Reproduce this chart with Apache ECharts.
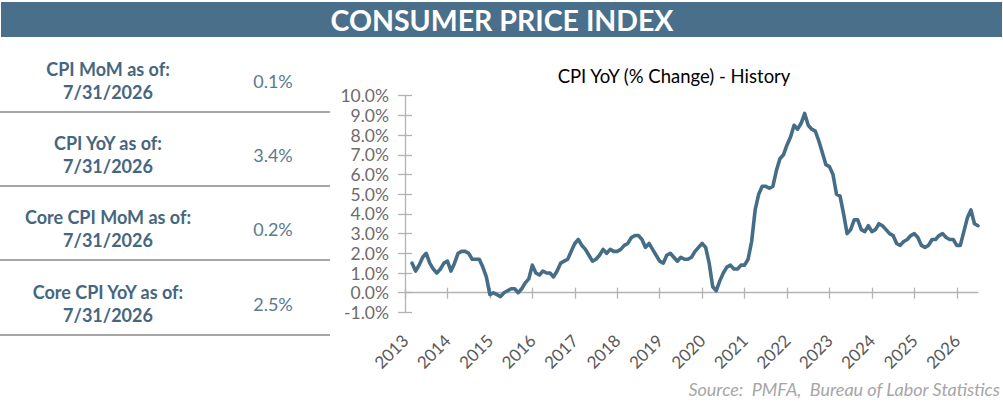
<!DOCTYPE html>
<html>
<head>
<meta charset="utf-8">
<script src="https://cdn.jsdelivr.net/npm/echarts@6/dist/echarts.min.js"></script>
<style>
html,body{margin:0;padding:0;background:#fff;}
#c{width:1003px;height:405px;}
</style>
</head>
<body>
<div id="c"></div>
<script>
// ---- data ----
const yearLabels = ['2013','2014','2015','2016','2017','2018','2019','2020','2021','2022','2023','2024','2025','2026'];
const axisStartMonth = 1;   // Jan 2013
const axisEndMonth = 7;     // Jul 2026
const dataStartIndex = 2;   // series begins Mar 2013
const cpiYoY = [
  // 2013 Mar-Dec
  1.5, 1.1, 1.4, 1.8, 2.0, 1.5, 1.2, 1.0, 1.2, 1.5,
  // 2014
  1.6, 1.1, 1.5, 2.0, 2.1, 2.1, 2.0, 1.7, 1.7, 1.7, 1.3, 0.8,
  // 2015
  -0.1, 0.0, -0.1, -0.2, 0.0, 0.1, 0.2, 0.2, 0.0, 0.2, 0.5, 0.7,
  // 2016
  1.4, 1.0, 0.9, 1.1, 1.0, 1.0, 0.8, 1.1, 1.5, 1.6, 1.7, 2.1,
  // 2017
  2.5, 2.7, 2.4, 2.2, 1.9, 1.6, 1.7, 1.9, 2.2, 2.0, 2.2, 2.1,
  // 2018
  2.1, 2.2, 2.4, 2.5, 2.8, 2.9, 2.9, 2.7, 2.3, 2.5, 2.2, 1.9,
  // 2019
  1.6, 1.5, 1.9, 2.0, 1.8, 1.6, 1.8, 1.7, 1.7, 1.8, 2.1, 2.3,
  // 2020
  2.5, 2.3, 1.5, 0.3, 0.1, 0.6, 1.0, 1.3, 1.4, 1.2, 1.2, 1.4,
  // 2021
  1.4, 1.7, 2.6, 4.2, 5.0, 5.4, 5.4, 5.3, 5.4, 6.2, 6.8, 7.0,
  // 2022
  7.5, 7.9, 8.5, 8.3, 8.6, 9.1, 8.5, 8.3, 8.2, 7.7, 7.1, 6.5,
  // 2023
  6.4, 6.0, 5.0, 4.9, 4.0, 3.0, 3.2, 3.7, 3.7, 3.2, 3.1, 3.4,
  // 2024
  3.1, 3.2, 3.5, 3.4, 3.2, 3.0, 2.9, 2.5, 2.4, 2.6, 2.7, 2.9,
  // 2025
  3.0, 2.8, 2.4, 2.3, 2.4, 2.7, 2.7, 2.9, 3.0, 2.8, 2.7, 2.7,
  // 2026 Jan-Jul
  2.4, 2.4, 3.1, 3.8, 4.2, 3.5, 3.4
];
const yTicks = {min: -1, max: 10, interval: 1};
const panelLabels = ['CPI MoM as of:', 'CPI YoY as of:', 'Core CPI MoM as of:', 'Core CPI YoY as of:'];
const panelDates = ['7/31/2026', '7/31/2026', '7/31/2026', '7/31/2026'];
const panelValues = ['0.1%', '3.4%', '0.2%', '2.5%'];
const headerText = 'CONSUMER PRICE INDEX';
const chartTitle = 'CPI YoY (% Change) - History';
const sourceText = 'Source:  PMFA,  Bureau of Labor Statistics';

// ---- build month categories ----
const months = [];
{
  const y0 = parseInt(yearLabels[0], 10);
  const y1 = parseInt(yearLabels[yearLabels.length - 1], 10);
  for (let y = y0; y <= y1; y++) {
    for (let m = 1; m <= 12; m++) {
      if (y === y0 && m < axisStartMonth) continue;
      if (y === y1 && m > axisEndMonth) continue;
      months.push(y + '-' + (m < 10 ? '0' + m : m));
    }
  }
}
const seriesData = months.map((_, i) => {
  const k = i - dataStartIndex;
  return (k >= 0 && k < cpiYoY.length) ? cpiYoY[k] : null;
});
const isJan = (idx, val) => String(val).slice(5) === '01';

// ---- panel graphics ----
const textColor = '#46667f';
const graphics = [];
graphics.push({type:'rect', shape:{x:1, y:2, width:1001, height:35}, style:{fill:'#4a6f8a'}, silent:true});
graphics.push({type:'text', x:502, y:20, style:{text:headerText, fill:'#fff', font:'bold 28.5px Lato', align:'center', verticalAlign:'middle'}});
const rowTop = [37, 112, 186, 260];
const rowLine = [112, 186, 260, 335];
for (let r = 0; r < 4; r++) {
  const mid = (rowTop[r] + rowLine[r]) / 2 + 5;
  graphics.push({type:'text', x:108, y:mid - 11, style:{text:panelLabels[r], fill:textColor, font:'bold 18px Lato', align:'center', verticalAlign:'middle'}});
  graphics.push({type:'text', x:108, y:mid + 12, style:{text:panelDates[r], fill:textColor, font:'bold 18px Lato', align:'center', verticalAlign:'middle'}});
  graphics.push({type:'text', x:273, y:mid + 1, style:{text:panelValues[r], fill:'#5a7a92', font:'18px Lato', align:'center', verticalAlign:'middle'}});
  graphics.push({type:'line', shape:{x1:0, y1:rowLine[r], x2:330, y2:rowLine[r]}, style:{stroke:'#a6a6a6', lineWidth:2}});
}
graphics.push({type:'text', x:674, y:76, style:{text:chartTitle, fill:'#000', font:'18.5px Lato', align:'center', verticalAlign:'middle'}});
graphics.push({type:'text', x:1000, y:389, style:{text:sourceText, fill:'#a6a6a6', font:'italic 18px Lato', align:'right', verticalAlign:'middle'}});

const axisGray = '#b3b3b3';
const option = {
  animation: false,
  grid: {left: 405, right: 25, top: 95.7, bottom: 92.6, containLabel: false},
  xAxis: [
    {type:'category', data:months, boundaryGap:false, position:'bottom',
      axisLine:{show:true, onZero:true, lineStyle:{color:axisGray, width:1.3}},
      axisTick:{show:true, inside:false, length:6, interval:isJan, lineStyle:{color:axisGray, width:1.3}},
      axisLabel:{show:false}, splitLine:{show:false}},
    {type:'category', data:months, boundaryGap:false, position:'bottom',
      axisLine:{show:false, onZero:true},
      axisTick:{show:true, inside:true, length:5, interval:isJan, lineStyle:{color:axisGray, width:1.3}},
      axisLabel:{show:false}, splitLine:{show:false}},
    {type:'category', data:months, boundaryGap:false, position:'bottom',
      axisLine:{show:false, onZero:false},
      axisTick:{show:false},
      axisLabel:{show:true, interval:isJan, rotate:45, margin:25, color:'#595959', fontFamily:'Lato', fontSize:17,
        formatter:(v) => v.slice(0,4)},
      splitLine:{show:false}}
  ],
  yAxis: [
    {type:'value', min:yTicks.min, max:yTicks.max, interval:yTicks.interval, position:'left',
      axisLine:{show:true, onZero:false, lineStyle:{color:axisGray, width:1.3}},
      axisTick:{show:true, inside:false, length:7, lineStyle:{color:axisGray, width:1.3}},
      axisLabel:{show:true, margin:16, color:'#6f6b6b', fontFamily:'Lato', fontSize:17.5, lineHeight:15,
        formatter:(v) => v.toFixed(1) + '%'},
      splitLine:{show:false}},
    {type:'value', min:yTicks.min, max:yTicks.max, interval:yTicks.interval, position:'left',
      axisLine:{show:false, onZero:false},
      axisTick:{show:true, inside:true, length:7, lineStyle:{color:axisGray, width:1.3}},
      axisLabel:{show:false}, splitLine:{show:false}}
  ],
  series: [{
    type:'line', data:seriesData, xAxisIndex:0, yAxisIndex:0,
    showSymbol:false, symbol:'none', connectNulls:false,
    lineStyle:{color:'#466d88', width:3.6, cap:'round', join:'round'}
  }],
  graphic: graphics
};
const chart = echarts.init(document.getElementById('c'), null, {renderer:'svg'});
chart.setOption(option);
</script>
</body>
</html>
